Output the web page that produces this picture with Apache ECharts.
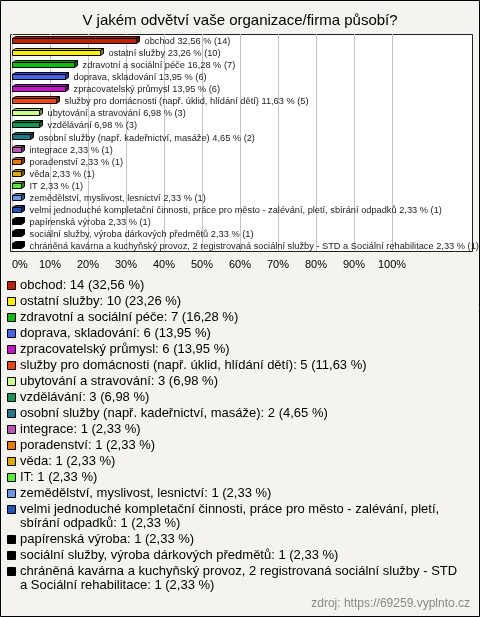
<!DOCTYPE html>
<html><head><meta charset="utf-8">
<script src="https://cdn.jsdelivr.net/npm/echarts@6/dist/echarts.min.js"></script>
<style>html,body{margin:0;padding:0;background:#f4f3ee}#c{width:480px;height:617px}</style>
</head><body><div id="c"></div>
<script>
const titleText = 'V jakém odvětví vaše organizace/firma působí?';
const categories = [
  'obchod',
  'ostatní služby',
  'zdravotní a sociální péče',
  'doprava, skladování',
  'zpracovatelský průmysl',
  'služby pro domácnosti (např. úklid, hlídání dětí)',
  'ubytování a stravování',
  'vzdělávání',
  'osobní služby (např. kadeřnictví, masáže)',
  'integrace',
  'poradenství',
  'věda',
  'IT',
  'zemědělství, myslivost, lesnictví',
  'velmi jednoduché kompletační činnosti, práce pro město - zalévání, pletí, sbírání odpadků',
  'papírenská výroba',
  'sociální služby, výroba dárkových předmětů',
  'chráněná kavárna a kuchyňský provoz, 2 registrovaná sociální služby - STD a Sociální rehabilitace'
];
const counts = [14, 10, 7, 6, 6, 5, 3, 3, 2, 1, 1, 1, 1, 1, 1, 1, 1, 1];
const percents = [32.56, 23.26, 16.28, 13.95, 13.95, 11.63, 6.98, 6.98, 4.65, 2.33, 2.33, 2.33, 2.33, 2.33, 2.33, 2.33, 2.33, 2.33];
const colors = ['#c42000', '#ffee00', '#11bb11', '#4466ee', '#cc11cc', '#ee4411', '#ccff88', '#119955', '#227788', '#bb55bb', '#ee7700', '#ddaa00', '#55ee33', '#6699ee', '#2255bb', '#000000', '#000000', '#000000'];
const xTicks = [0, 10, 20, 30, 40, 50, 60, 70, 80, 90, 100];
const sourceText = 'zdroj: https://69259.vyplnto.cz';

const fmt = v => v.toFixed(2).replace('.', ',');
function shade(hex, f) {
  const n = parseInt(hex.slice(1), 16);
  const r = Math.round(((n >> 16) & 255) * f), g = Math.round(((n >> 8) & 255) * f), b = Math.round((n & 255) * f);
  return 'rgb(' + r + ',' + g + ',' + b + ')';
}

const chart = echarts.init(document.getElementById('c'), null, {renderer: 'canvas'});

// legend layout (wrapping measured with canvas)
const legendFont = '13px "Liberation Sans", Arial, sans-serif';
const mctx = document.createElement('canvas').getContext('2d');
mctx.font = legendFont;
function wrap(text, w) {
  const words = text.split(' ');
  const lines = [];
  let cur = '';
  for (const wd of words) {
    const t = cur ? cur + ' ' + wd : wd;
    if (cur && mctx.measureText(t).width > w) { lines.push(cur); cur = wd; } else cur = t;
  }
  if (cur) lines.push(cur);
  return lines;
}
const graphics = [
  {type: 'rect', z: -20, shape: {x: 0.5, y: 0.5, width: 479, height: 616}, style: {fill: '#f4f3ee', stroke: '#000', lineWidth: 1}},
  {type: 'rect', z: -10, shape: {x: 10.5, y: 34.5, width: 462, height: 217}, style: {fill: '#fff', stroke: '#222', lineWidth: 1}},
  {type: 'text', x: 240, y: 20.5, style: {text: titleText, font: '15px "Liberation Sans", Arial, sans-serif', fill: '#000', align: 'center', verticalAlign: 'middle'}},
  {type: 'text', x: 470, y: 604, style: {text: sourceText, font: '12px "Liberation Sans", Arial, sans-serif', fill: '#888', align: 'right', verticalAlign: 'middle'}}
];
let ly = 285;
const lineH = 14, gap = 2;
categories.forEach((c, i) => {
  const lines = wrap(c + ': ' + counts[i] + ' (' + fmt(percents[i]) + ' %)', 445);
  graphics.push({type: 'rect', shape: {x: 7.5, y: Math.round(ly - 4) + 0.5, width: 8, height: 8}, style: {fill: colors[i], stroke: '#000', lineWidth: 1}});
  lines.forEach((ln, k) => {
    graphics.push({type: 'text', x: 20, y: ly + k * lineH, style: {text: ln, font: legendFont, fill: '#000', verticalAlign: 'middle'}});
  });
  ly += lines.length * lineH + gap;
});

function renderItem(params, api) {
  const v = api.value(0), i = api.value(1);
  const p0 = api.coord([0, i]), p1 = api.coord([v, i]);
  const h = 5, dx = 3, dy = 2;
  const x0 = Math.round(p0[0]) + 0.5, x1 = Math.round(p1[0]) + 0.5;
  const y0 = Math.round(p0[1] - 2) + 0.5;
  const y1 = y0 + h;
  const c = colors[i];
  const st = {stroke: '#000', lineWidth: 1};
  return {
    type: 'group',
    children: [
      {type: 'polygon', shape: {points: [[x0, y0], [x0 + dx, y0 - dy], [x1 + dx, y0 - dy], [x1, y0]]}, style: Object.assign({fill: shade(c, 0.8)}, st)},
      {type: 'polygon', shape: {points: [[x1, y0], [x1 + dx, y0 - dy], [x1 + dx, y1 - dy], [x1, y1]]}, style: Object.assign({fill: shade(c, 0.55)}, st)},
      {type: 'rect', shape: {x: x0, y: y0, width: x1 - x0, height: h}, style: Object.assign({fill: c}, st)},
      {type: 'text', x: x1 + 8, y: p0[1] + 1.5, style: {text: categories[i] + ' ' + fmt(percents[i]) + ' % (' + counts[i] + ')', font: '9.25px "Liberation Sans", Arial, sans-serif', fill: '#222', verticalAlign: 'middle'}}
    ]
  };
}

chart.setOption({
  animation: false,
  backgroundColor: '#f4f3ee',
  graphic: graphics,
  grid: {left: 12, top: 34, width: 380, height: 217, containLabel: false},
  xAxis: {
    type: 'value', min: xTicks[0], max: xTicks[xTicks.length - 1], interval: 10,
    axisLine: {show: false}, axisTick: {show: false},
    splitLine: {show: true, lineStyle: {color: '#c4c4c4', width: 1}},
    axisLabel: {formatter: '{value}%', color: '#000', fontSize: 11, fontFamily: '"Liberation Sans", Arial, sans-serif', margin: 8, alignMinLabel: 'left'}
  },
  yAxis: {
    type: 'category', data: categories, inverse: true,
    axisLine: {show: false}, axisTick: {show: false}, axisLabel: {show: false}, splitLine: {show: false}
  },
  series: [{
    type: 'custom', renderItem: renderItem, clip: false,
    encode: {x: 0, y: 1},
    data: percents.map((p, i) => [p, i])
  }]
});
</script></body></html>
